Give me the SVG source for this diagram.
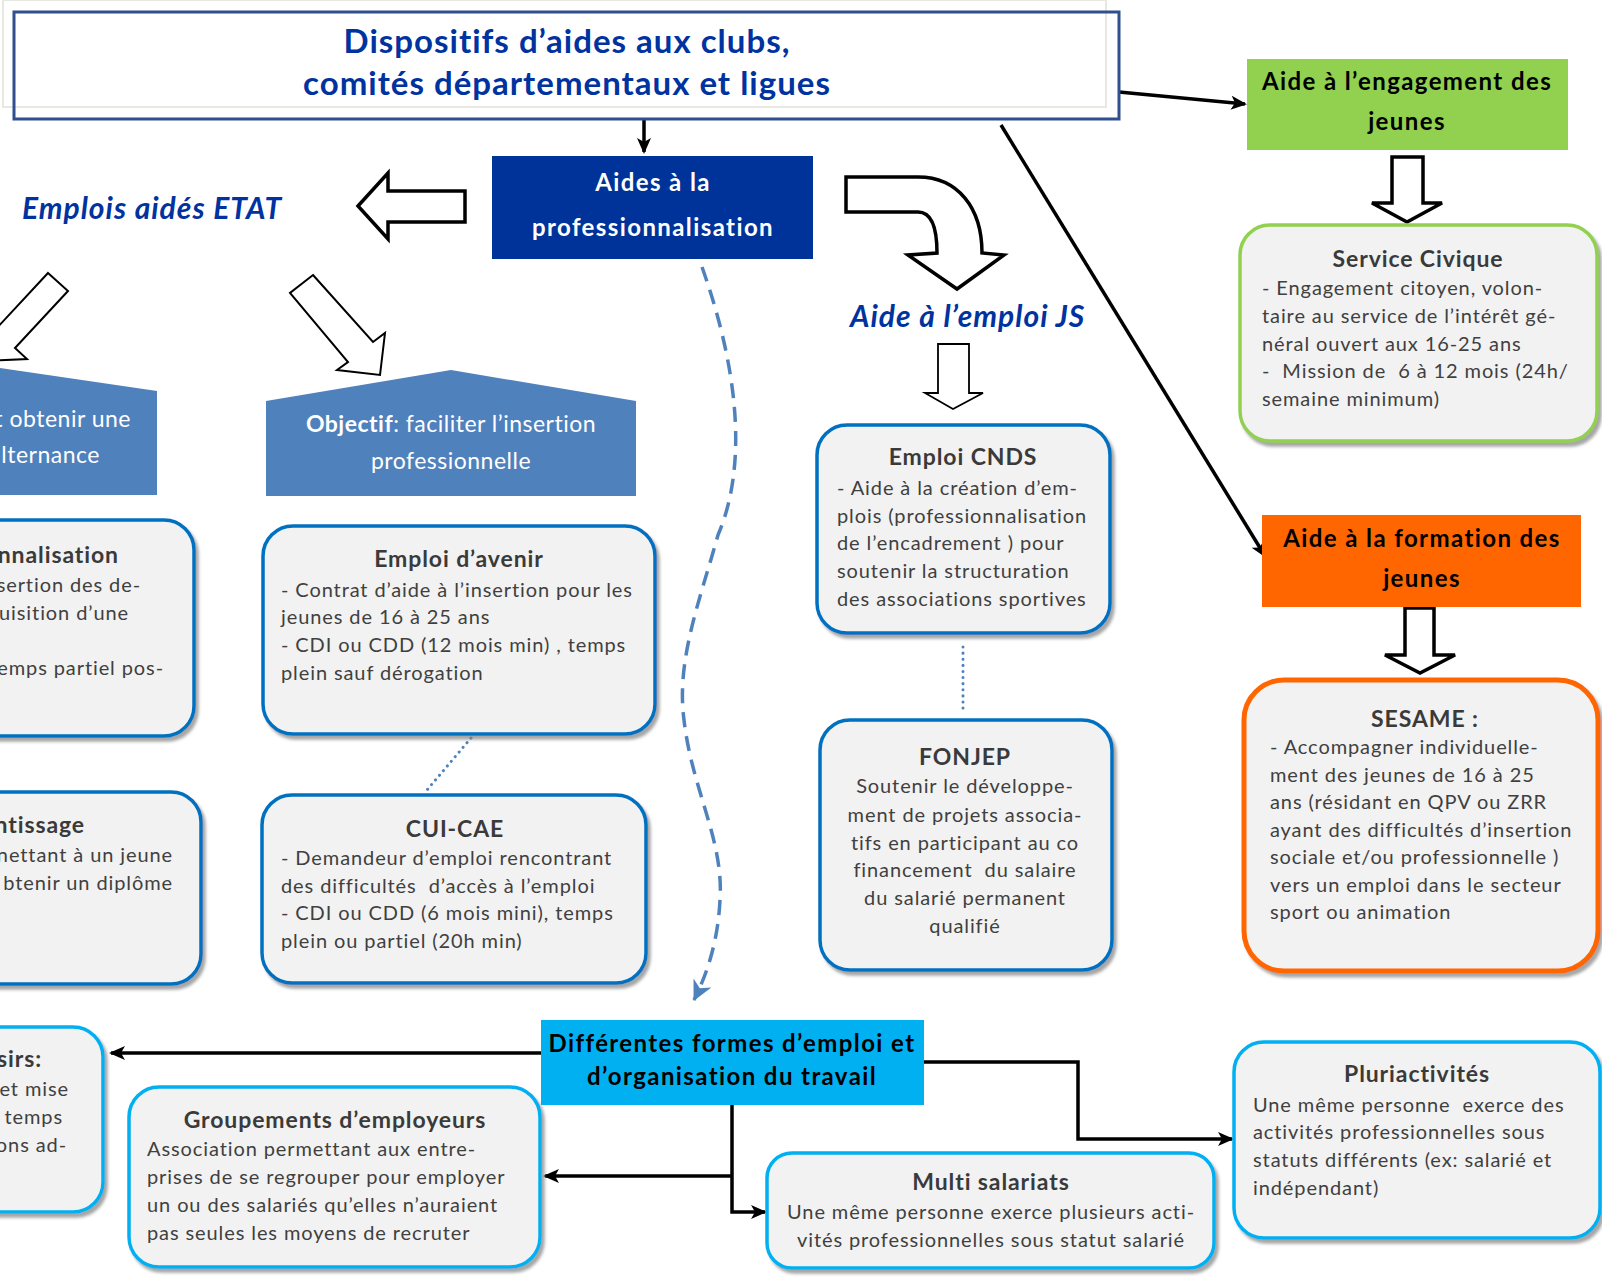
<svg xmlns="http://www.w3.org/2000/svg" width="1602" height="1279" viewBox="0 0 1602 1279">
<defs>
<style>
.t{font-family:Lato,"Open Sans",sans-serif;}
.body{font-family:Lato,"Open Sans",sans-serif;font-size:20px;letter-spacing:0.9px;fill:#404040;}
.bt{font-family:Lato,"Open Sans",sans-serif;font-size:23px;letter-spacing:0.9px;font-weight:bold;fill:#3a3a3a;}
.wb{font-family:Lato,"Open Sans",sans-serif;font-size:24px;letter-spacing:1.4px;font-weight:bold;fill:#ffffff;}
.kb{font-family:Lato,"Open Sans",sans-serif;font-size:24px;letter-spacing:1.4px;font-weight:bold;fill:#000000;}
.it{font-family:Lato,"Open Sans",sans-serif;font-size:30px;letter-spacing:1px;font-weight:bold;font-style:italic;fill:#0033a0;}
.pt{font-family:Lato,"Open Sans",sans-serif;font-size:23px;letter-spacing:0.5px;fill:#ffffff;}
.box{fill:#f2f2f2;stroke:#0070c0;stroke-width:3.5;filter:url(#sh);}
.lbox{fill:#f2f2f2;stroke:#00b0f0;stroke-width:3.5;filter:url(#sh);}
.blk{fill:#ffffff;stroke:#000000;stroke-width:3.5;stroke-linejoin:miter;}
.thin{fill:#ffffff;stroke:#000000;stroke-width:2;}
.conn{fill:none;stroke:#000000;stroke-width:3.5;}
.dot{fill:none;stroke:#4f81bd;stroke-width:3;stroke-dasharray:0.1 6;stroke-linecap:round;}
</style>
<filter id="sh" x="-10%" y="-10%" width="125%" height="125%">
<feDropShadow dx="3" dy="4" stdDeviation="1.5" flood-color="#808080" flood-opacity="0.7"/>
</filter>
<marker id="ah" markerUnits="userSpaceOnUse" markerWidth="16" markerHeight="14" refX="14" refY="7" orient="auto">
<path d="M0,0 L16,7 L0,14 L4,7 Z" fill="#000000"/>
</marker>
<marker id="dh" markerUnits="userSpaceOnUse" markerWidth="22" markerHeight="20" refX="19" refY="10" orient="auto">
<path d="M0,0 L20,10 L0,20 L6,10 Z" fill="#4f81bd"/>
</marker>
</defs>
<rect width="1602" height="1279" fill="#ffffff"/>

<g id="connectors">
<line class="conn" x1="644" y1="119" x2="644" y2="152" marker-end="url(#ah)"/>
<line class="conn" x1="1119" y1="92" x2="1245" y2="104" marker-end="url(#ah)"/>
<line class="conn" x1="1001" y1="125" x2="1265" y2="556" marker-end="url(#ah)"/>
<path d="M702,267 C735,360 750,460 718,535 C700,600 676,660 684,720 C692,790 724,840 720,900 C718,940 708,972 694,1000" fill="none" stroke="#4f81bd" stroke-width="3.5" stroke-dasharray="15 9" marker-end="url(#dh)"/>
<line class="dot" x1="471" y1="738" x2="427" y2="790"/>
<line class="dot" x1="963" y1="647" x2="963" y2="712"/>
<line class="conn" x1="541" y1="1053" x2="111" y2="1053" marker-end="url(#ah)"/>
<polyline class="conn" points="732,1105 732,1212 765,1212" marker-end="url(#ah)"/>
<line class="conn" x1="732" y1="1176" x2="545" y2="1176" marker-end="url(#ah)"/>
<polyline class="conn" points="924,1062 1078,1062 1078,1139 1232,1139" marker-end="url(#ah)"/>
<polygon class="blk" points="358,206 388,173 388,191 465,191 465,222 388,222 388,239"/>
<polygon class="thin" points="48,273 68,291 15,348 27,359 -15,361 -17,319 -5,330"/>
<polygon class="thin" points="313,275 373,342 385,333 380,375 337,370 348,362 290,293"/>
<path class="blk" d="M846,177 L918,177 C958,177 982,208 982,253 L1004,255 L957,289 L908,255 L937,253 C937,228 932,212 918,212 L846,212 Z"/>
<polygon fill="#ffffff" stroke="#000000" stroke-width="1.8" points="938,344 969,344 969,393 983,393 953,409 925,393 938,393"/>
<polygon class="blk" points="1392,157 1423,157 1423,203 1442,203 1407,222 1372,203 1392,203"/>
<polygon class="blk" points="1405,608 1434,608 1434,655 1455,655 1420,673 1385,655 1405,655"/>
</g>

<g id="title">
<rect x="3" y="0" width="1103" height="107" fill="none" stroke="#e8e8e0" stroke-width="2"/>
<rect x="14" y="12" width="1105" height="107" fill="none" stroke="#2f4f8f" stroke-width="3"/>
<text class="t" x="567" y="53" text-anchor="middle" font-size="33" letter-spacing="1" font-weight="bold" fill="#0033a0">Dispositifs d’aides aux clubs,</text>
<text class="t" x="567" y="95" text-anchor="middle" font-size="33" letter-spacing="1" font-weight="bold" fill="#0033a0">comités départementaux et ligues</text>
</g>

<g id="aides-pro">
<rect x="492" y="156" width="321" height="103" fill="#003399"/>
<text class="wb" x="653" y="191" text-anchor="middle">Aides à la</text>
<text class="wb" x="653" y="236" text-anchor="middle">professionnalisation</text>
</g>

<g id="emplois-aides-etat">
<text class="it" x="22" y="219">Emplois aidés ETAT</text>
</g>

<g id="objectif-left">
<polygon points="-240,495 -240,391 -40,362 157,391 157,495" fill="#4f81bd"/>
<text class="pt" x="131" y="427" text-anchor="end">t obtenir une</text>
<text class="pt" x="100" y="463" text-anchor="end">lternance</text>
</g>

<g id="objectif-right">
<polygon points="266,496 266,401 451,370 636,401 636,496" fill="#4f81bd"/>
<text class="pt" x="451" y="432" text-anchor="middle"><tspan font-weight="bold">Objectif</tspan>: faciliter l’insertion</text>
<text class="pt" x="451" y="469" text-anchor="middle">professionnelle</text>
</g>

<g id="contrat-pro">
<rect class="box" x="-40" y="520" width="234" height="216" rx="30"/>
<text class="bt" x="119" y="563" text-anchor="end">nnalisation</text>
<text class="body" x="141" y="592" text-anchor="end">sertion des de-</text>
<text class="body" x="129" y="620" text-anchor="end">uisition d’une</text>
<text class="body" x="164" y="675" text-anchor="end">emps partiel pos-</text>
</g>

<g id="apprentissage">
<rect class="box" x="-40" y="792" width="241" height="192" rx="30"/>
<text class="bt" x="85" y="833" text-anchor="end">ntissage</text>
<text class="body" x="173" y="862" text-anchor="end">nettant à un jeune</text>
<text class="body" x="173" y="890" text-anchor="end">btenir un diplôme</text>
</g>

<g id="emploi-avenir">
<rect class="box" x="263" y="526" width="392" height="208" rx="30"/>
<text class="bt" x="459" y="567" text-anchor="middle">Emploi d’avenir</text>
<text class="body" x="281" y="597">- Contrat d’aide à l’insertion pour les</text>
<text class="body" x="281" y="624">jeunes de 16 à 25 ans</text>
<text class="body" x="281" y="652">- CDI ou CDD (12 mois min) , temps</text>
<text class="body" x="281" y="680">plein sauf dérogation</text>
</g>

<g id="cui-cae">
<rect class="box" x="262" y="795" width="384" height="188" rx="30"/>
<text class="bt" x="455" y="837" text-anchor="middle">CUI-CAE</text>
<text class="body" x="281" y="865">- Demandeur d’emploi rencontrant</text>
<text class="body" x="281" y="893" xml:space="preserve">des difficultés  d’accès à l’emploi</text>
<text class="body" x="281" y="920">- CDI ou CDD (6 mois mini), temps</text>
<text class="body" x="281" y="948">plein ou partiel (20h min)</text>
</g>

<g id="aide-emploi-js">
<text class="it" x="850" y="327">Aide à l’emploi JS</text>
</g>

<g id="emploi-cnds">
<rect class="box" x="817" y="425" width="293" height="208" rx="30"/>
<text class="bt" x="963" y="465" text-anchor="middle">Emploi CNDS</text>
<text class="body" x="837" y="495">- Aide à la création d’em-</text>
<text class="body" x="837" y="523">plois (professionnalisation</text>
<text class="body" x="837" y="550">de l’encadrement ) pour</text>
<text class="body" x="837" y="578">soutenir la structuration</text>
<text class="body" x="837" y="606">des associations sportives</text>
</g>

<g id="fonjep">
<rect class="box" x="820" y="720" width="292" height="250" rx="30"/>
<text class="bt" x="965" y="765" text-anchor="middle">FONJEP</text>
<text class="body" x="965" y="793" text-anchor="middle">Soutenir le développe-</text>
<text class="body" x="965" y="822" text-anchor="middle">ment de projets associa-</text>
<text class="body" x="965" y="850" text-anchor="middle">tifs en participant au co</text>
<text class="body" x="965" y="877" text-anchor="middle" xml:space="preserve">financement  du salaire</text>
<text class="body" x="965" y="905" text-anchor="middle">du salarié permanent</text>
<text class="body" x="965" y="933" text-anchor="middle">qualifié</text>
</g>

<g id="aide-engagement">
<rect x="1247" y="59" width="321" height="91" fill="#92d050"/>
<text class="kb" x="1407" y="90" text-anchor="middle">Aide à l’engagement des</text>
<text class="kb" x="1407" y="130" text-anchor="middle">jeunes</text>
</g>

<g id="service-civique">
<rect x="1240" y="225" width="357" height="216" rx="30" fill="#f2f2f2" stroke="#92d050" stroke-width="3.5" filter="url(#sh)"/>
<text class="bt" x="1418" y="267" text-anchor="middle">Service Civique</text>
<text class="body" x="1262" y="295">- Engagement citoyen, volon-</text>
<text class="body" x="1262" y="323">taire au service de l’intérêt gé-</text>
<text class="body" x="1262" y="351">néral ouvert aux 16-25 ans</text>
<text class="body" x="1262" y="378" xml:space="preserve">-  Mission de  6 à 12 mois (24h/</text>
<text class="body" x="1262" y="406">semaine minimum)</text>
</g>

<g id="aide-formation">
<rect x="1262" y="515" width="319" height="92" fill="#ff6600"/>
<text class="kb" x="1422" y="547" text-anchor="middle">Aide à la formation des</text>
<text class="kb" x="1422" y="587" text-anchor="middle">jeunes</text>
</g>

<g id="sesame">
<rect x="1244" y="680" width="354" height="291" rx="40" fill="#f2f2f2" stroke="#ff6600" stroke-width="5" filter="url(#sh)"/>
<text class="bt" x="1425" y="727" text-anchor="middle">SESAME :</text>
<text class="body" x="1270" y="754">- Accompagner individuelle-</text>
<text class="body" x="1270" y="782">ment des jeunes de 16 à 25</text>
<text class="body" x="1270" y="809">ans (résidant en QPV ou ZRR</text>
<text class="body" x="1270" y="837">ayant des difficultés d’insertion</text>
<text class="body" x="1270" y="864">sociale et/ou professionnelle )</text>
<text class="body" x="1270" y="892">vers un emploi dans le secteur</text>
<text class="body" x="1270" y="919">sport ou animation</text>
</g>

<g id="differentes-formes">
<rect x="541" y="1020" width="383" height="85" fill="#00b0f0"/>
<text class="kb" x="732" y="1052" text-anchor="middle">Différentes formes d’emploi et</text>
<text class="kb" x="732" y="1085" text-anchor="middle">d’organisation du travail</text>
</g>

<g id="loisirs">
<rect class="lbox" x="-40" y="1027" width="143" height="185" rx="30"/>
<text class="bt" x="42" y="1067" text-anchor="end">sirs:</text>
<text class="body" x="69" y="1096" text-anchor="end">et mise</text>
<text class="body" x="63" y="1124" text-anchor="end">temps</text>
<text class="body" x="67" y="1152" text-anchor="end">ons ad-</text>
</g>

<g id="groupements">
<rect class="lbox" x="129" y="1087" width="411" height="180" rx="30"/>
<text class="bt" x="335" y="1128" text-anchor="middle">Groupements d’employeurs</text>
<text class="body" x="147" y="1156">Association permettant aux entre-</text>
<text class="body" x="147" y="1184">prises de se regrouper pour employer</text>
<text class="body" x="147" y="1212">un ou des salariés qu’elles n’auraient</text>
<text class="body" x="147" y="1240">pas seules les moyens de recruter</text>
</g>

<g id="multi-salariats">
<rect class="lbox" x="767" y="1153" width="447" height="115" rx="25"/>
<text class="bt" x="991" y="1190" text-anchor="middle">Multi salariats</text>
<text class="body" x="991" y="1219" text-anchor="middle">Une même personne exerce plusieurs acti-</text>
<text class="body" x="991" y="1247" text-anchor="middle">vités professionnelles sous statut salarié</text>
</g>

<g id="pluriactivites">
<rect class="lbox" x="1234" y="1042" width="366" height="196" rx="30"/>
<text class="bt" x="1417" y="1082" text-anchor="middle">Pluriactivités</text>
<text class="body" x="1253" y="1112" xml:space="preserve">Une même personne  exerce des</text>
<text class="body" x="1253" y="1139">activités professionnelles sous</text>
<text class="body" x="1253" y="1167">statuts différents (ex: salarié et</text>
<text class="body" x="1253" y="1195">indépendant)</text>
</g>
</svg>
